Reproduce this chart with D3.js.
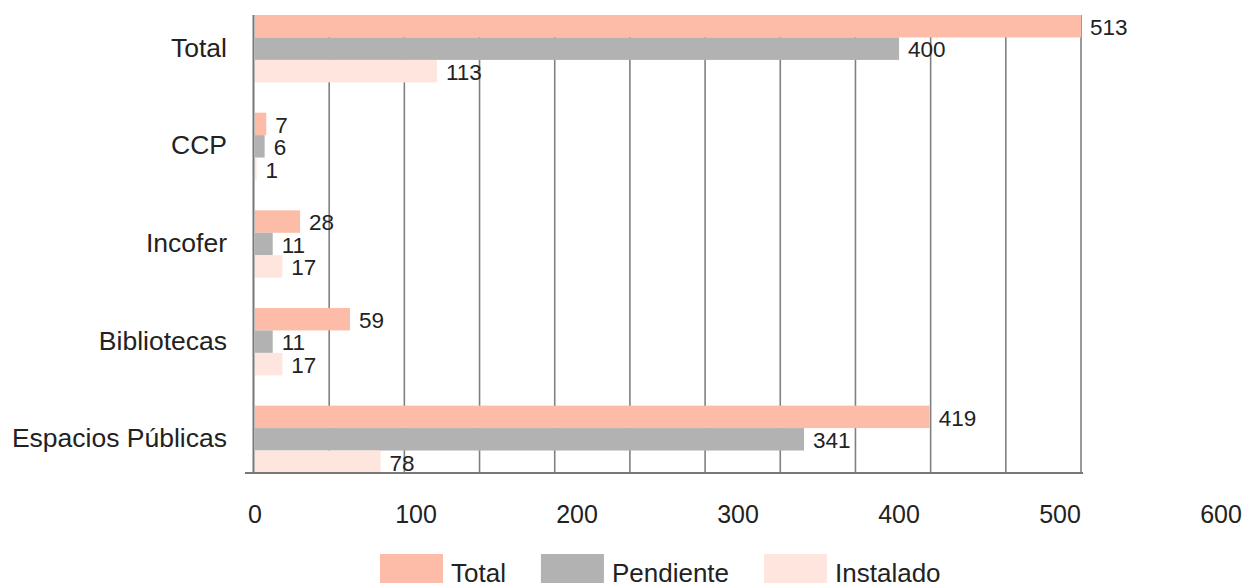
<!DOCTYPE html>
<html lang="es">
<head>
<meta charset="utf-8">
<title>Instalaciones por ubicación</title>
<script src="https://cdn.jsdelivr.net/npm/d3@7/dist/d3.min.js"></script>
<style>
  html, body { margin: 0; padding: 0; background: #fff; }
  svg { display: block; }
  text { font-family: "Liberation Sans", Arial, Helvetica, sans-serif; fill: #222; }
</style>
</head>
<body>
<svg id="chart" width="1252" height="587"></svg>
<script>
// Categories, top to bottom
const categories = ["Total", "CCP", "Incofer", "Bibliotecas", "Espacios Públicas"];
// Series names (legend order)
const seriesNames = ["Total", "Pendiente", "Instalado"];
// Values per category, one array per series
const totalValues     = [513, 7, 28, 59, 419];
const pendienteValues = [400, 6, 11, 11, 341];
const instaladoValues = [113, 1, 17, 17, 78];
// Axis tick labels
const tickValues = [0, 100, 200, 300, 400, 500, 600];

const seriesValues = [totalValues, pendienteValues, instaladoValues];
const colors = ["#FDBCA8", "#B2B2B2", "#FEE5DD"];

const svg = d3.select("#chart");

const plot = { left: 254, right: 1081, top: 15, bottom: 473 };
const xMax = d3.max(totalValues);

const x = d3.scaleLinear()
  .domain([0, xMax])
  .range([plot.left + 1, plot.right]);

const y = d3.scaleBand()
  .domain(categories)
  .range([plot.top, plot.bottom])
  .paddingInner(0.31)
  .paddingOuter(0);

const ySub = d3.scaleBand()
  .domain(seriesNames)
  .range([0, y.bandwidth()])
  .padding(0);

const color = d3.scaleOrdinal().domain(seriesNames).range(colors);

// Vertical grid: the plot width split into eleven equal parts
const gridValues = d3.range(12).map(i => i * xMax / 11);
const gridX = d3.scaleLinear().domain([0, xMax]).range([plot.left, plot.right]);
svg.append("g")
  .selectAll("line")
  .data(gridValues.slice(1))
  .join("line")
  .attr("x1", d => gridX(d))
  .attr("x2", d => gridX(d))
  .attr("y1", plot.top)
  .attr("y2", plot.bottom)
  .attr("stroke", "#808080")
  .attr("stroke-width", 1.6);

// Flatten to one record per bar
const bars = [];
categories.forEach((c, i) => {
  seriesNames.forEach((s, j) => {
    bars.push({ category: c, series: s, value: seriesValues[j][i] });
  });
});

svg.append("g")
  .selectAll("rect")
  .data(bars)
  .join("rect")
  .attr("x", x(0))
  .attr("y", d => y(d.category) + ySub(d.series))
  .attr("width", d => x(d.value) - x(0))
  .attr("height", ySub.bandwidth())
  .attr("fill", d => color(d.series));

// Value labels at the end of each bar
svg.append("g")
  .selectAll("text")
  .data(bars)
  .join("text")
  .attr("x", d => x(d.value) + 9)
  .attr("y", d => y(d.category) + ySub(d.series) + ySub.bandwidth() - 2.5)
  .attr("font-size", 22.5)
  .text(d => d.value);

// Axis lines
svg.append("line")
  .attr("x1", plot.left - 0.5).attr("x2", plot.left - 0.5)
  .attr("y1", plot.top).attr("y2", plot.bottom)
  .attr("stroke", "#777").attr("stroke-width", 2);
svg.append("line")
  .attr("x1", plot.left - 9).attr("x2", plot.right + 2)
  .attr("y1", plot.bottom).attr("y2", plot.bottom)
  .attr("stroke", "#777").attr("stroke-width", 2);

// Category labels
svg.append("g")
  .selectAll("text")
  .data(categories)
  .join("text")
  .attr("x", plot.left - 27)
  .attr("y", d => y(d) + y.bandwidth() / 2)
  .attr("dy", "0.3em")
  .attr("text-anchor", "end")
  .attr("font-size", 26.5)
  .text(d => d);

// Value axis tick labels
svg.append("g")
  .selectAll("text")
  .data(tickValues)
  .join("text")
  .attr("x", d => x(d))
  .attr("y", 522.5)
  .attr("text-anchor", "middle")
  .attr("font-size", 25)
  .text(d => d);

// Legend
const legend = svg.append("g").attr("transform", "translate(380,554)");
let lx = 0;
seriesNames.forEach(s => {
  const item = legend.append("g").attr("transform", `translate(${lx},0)`);
  item.append("rect")
    .attr("width", 63).attr("height", 29)
    .attr("fill", color(s));
  const t = item.append("text")
    .attr("x", 71).attr("y", 27.5)
    .attr("font-size", 26)
    .text(s);
  lx += 71 + t.node().getComputedTextLength() + 35;
});
</script>
</body>
</html>
